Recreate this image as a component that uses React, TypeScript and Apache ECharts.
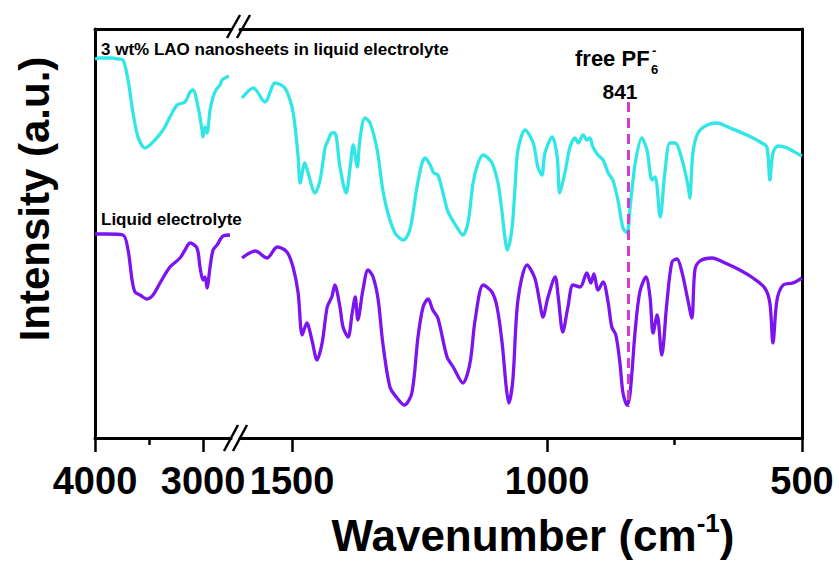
import React, { useEffect, useRef } from "react";
import * as echarts from "echarts";

// ---- data (wavenumber in cm-1, intensity in arbitrary units) ----
const cyanHighWn = [4000, 3950, 3850, 3780, 3740, 3694, 3648, 3602, 3537, 3463, 3370, 3306, 3240, 3167, 3120, 3093, 3046, 3009, 3000, 2981, 2963, 2935, 2907, 2880, 2843, 2824, 2778, 2760];
const cyanHighI = [379, 380, 380, 379, 378, 358, 325, 301, 290, 296, 308, 321, 333, 336, 346, 348, 331, 308, 301, 311, 305, 328, 341, 348, 353, 358, 361, 362];

const cyanLowWn = [1598, 1576, 1553, 1533, 1514, 1500, 1494, 1488, 1484, 1475, 1469, 1455, 1445, 1435, 1429, 1422, 1416, 1406, 1394, 1386, 1380, 1372, 1367, 1357, 1347, 1333, 1322, 1312, 1298, 1282, 1269, 1255, 1245, 1239, 1229, 1222, 1214, 1202, 1194, 1177, 1165, 1155, 1145, 1135, 1125, 1112, 1106, 1096, 1088, 1082, 1078, 1069, 1063, 1057, 1043, 1027, 1018, 1010, 1004, 990, 980, 975, 965, 955, 945, 939, 929, 922, 916, 910, 900, 890, 880, 871, 861, 851, 843, 837, 827, 814, 804, 794, 788, 778, 769, 759, 749, 735, 723, 720, 714, 704, 686, 667, 641, 608, 582, 569, 563, 557, 547, 529, 504, 500];
const cyanLowI = [340, 350, 336, 355, 350, 331, 311, 281, 255, 275, 266, 245, 258, 291, 298, 305, 305, 271, 245, 271, 293, 271, 298, 320, 315, 288, 248, 225, 205, 198, 208, 251, 275, 280, 273, 265, 263, 241, 226, 211, 203, 215, 255, 275, 283, 278, 273, 255, 225, 198, 188, 208, 248, 288, 308, 295, 271, 263, 285, 301, 281, 245, 265, 291, 300, 295, 303, 298, 300, 291, 283, 278, 265, 258, 238, 210, 205, 231, 275, 300, 288, 258, 261, 221, 265, 295, 295, 278, 251, 240, 285, 305, 313, 315, 310, 303, 296, 291, 258, 285, 292, 290, 283, 282];

const purpleHighWn = [4000, 3900, 3741, 3694, 3657, 3630, 3583, 3519, 3463, 3398, 3306, 3213, 3167, 3120, 3056, 3028, 3000, 2981, 2963, 2935, 2907, 2870, 2843, 2815, 2750];
const purpleHighI = [204, 204, 203, 188, 158, 146, 143, 139, 143, 155, 171, 180, 188, 195, 190, 171, 158, 161, 150, 171, 188, 193, 198, 202, 203];

const purpleLowWn = [1598, 1572, 1549, 1529, 1510, 1498, 1488, 1480, 1471, 1461, 1451, 1441, 1431, 1422, 1416, 1406, 1400, 1390, 1382, 1376, 1371, 1361, 1351, 1341, 1331, 1322, 1308, 1294, 1280, 1265, 1253, 1243, 1233, 1224, 1214, 1196, 1184, 1165, 1151, 1141, 1125, 1108, 1098, 1088, 1080, 1075, 1067, 1057, 1039, 1024, 1014, 1008, 998, 984, 978, 969, 959, 949, 935, 922, 914, 908, 900, 890, 880, 873, 865, 857, 851, 843, 837, 827, 818, 806, 798, 792, 784, 775, 765, 755, 745, 735, 725, 716, 710, 700, 676, 655, 622, 596, 573, 563, 557, 549, 537, 518, 500];
const purpleLowI = [180, 187, 180, 191, 186, 171, 145, 103, 115, 98, 78, 95, 131, 141, 153, 131, 111, 101, 125, 141, 118, 148, 168, 161, 138, 95, 51, 40, 33, 45, 101, 131, 139, 128, 120, 81, 71, 55, 75, 118, 153, 146, 131, 95, 51, 35, 58, 138, 173, 160, 135, 121, 141, 161, 141, 106, 131, 153, 151, 165, 155, 164, 148, 156, 135, 111, 103, 75, 45, 33, 45, 108, 146, 161, 141, 105, 123, 83, 135, 176, 179, 165, 141, 120, 168, 177, 180, 176, 168, 160, 150, 135, 95, 138, 153, 155, 160];

const highTickLabels = [4000, 3000];
const highMinorTicks = [3500];
const lowTickLabels = [1500, 1000, 500];
const lowMinorTicks = [750];
const peakWn = 841;
const peakLineRange = [336, 31];

const seriesNames = ["3 wt% LAO nanosheets in liquid electrolyte", "Liquid electrolyte"];

const zip = (xs: number[], ys: number[]) => xs.map((x, i) => [x, ys[i]]);

const FONT = "Liberation Sans, Arial, sans-serif";
const CYAN = "#33E6E6";
const PURPLE = "#7B14EE";
const MAGENTA = "#D23CD2";

export default function App() {
  const ref = useRef<HTMLDivElement>(null);
  useEffect(() => {
    if (!ref.current) return;
    const chart = echarts.init(ref.current, null, { renderer: "svg" });
    const axisLine = { show: true, onZero: false, lineStyle: { color: "#000", width: 3 } };
    const mkX = (grid: number, min: number, max: number, labels: number[], minor: number[]) => [
      {
        type: "value", gridIndex: grid, min, max, inverse: true, position: "bottom",
        axisLine,
        axisTick: { show: true, customValues: labels, length: 14, lineStyle: { color: "#000", width: 2.5 } },
        axisLabel: {
          show: true, customValues: labels, fontSize: 38, fontWeight: "bold", fontFamily: FONT, color: "#000", margin: 24,
          formatter: (v: number) => String(v),
        },
        splitLine: { show: false },
      },
      {
        type: "value", gridIndex: grid, min, max, inverse: true, position: "bottom",
        axisLine: { show: false, onZero: false },
        axisTick: { show: true, customValues: minor, length: 7, lineStyle: { color: "#000", width: 2.5 } },
        axisLabel: { show: false },
        splitLine: { show: false },
      },
      {
        type: "value", gridIndex: grid, min, max, inverse: true, position: "top",
        axisLine,
        axisTick: { show: false },
        axisLabel: { show: false },
        splitLine: { show: false },
      },
    ];
    const lineSeries = (name: string, data: number[][], color: string, xi: number, yi: number, extra: any = {}) => ({
      type: "line", name, data, xAxisIndex: xi, yAxisIndex: yi, showSymbol: false, symbol: "none",
      smooth: 0.3, lineStyle: { color, width: 3.3 }, itemStyle: { color }, silent: true, ...extra,
    });
    const option: any = {
      animation: false,
      grid: [
        { left: 95, top: 29, width: 136, height: 409 },
        { left: 240, top: 29, width: 562, height: 409 },
      ],
      xAxis: [
        ...mkX(0, 2741, 4000, highTickLabels, highMinorTicks),
        ...mkX(1, 500, 1602, lowTickLabels, lowMinorTicks),
      ],
      yAxis: [
        { type: "value", gridIndex: 0, min: 0, max: 409, position: "left", axisLine: { ...axisLine }, axisTick: { show: false }, axisLabel: { show: false }, splitLine: { show: false } },
        { type: "value", gridIndex: 1, min: 0, max: 409, position: "right", axisLine: { ...axisLine }, axisTick: { show: false }, axisLabel: { show: false }, splitLine: { show: false } },
      ],
      series: [
        lineSeries(seriesNames[0], zip(cyanHighWn, cyanHighI), CYAN, 0, 0),
        lineSeries(seriesNames[1], zip(purpleHighWn, purpleHighI), PURPLE, 0, 0),
        lineSeries(seriesNames[1], zip(purpleLowWn, purpleLowI), PURPLE, 3, 1),
        lineSeries(seriesNames[0], zip(cyanLowWn, cyanLowI), CYAN, 3, 1, {
          markLine: {
            silent: true, symbol: "none", animation: false,
            label: { show: false },
            lineStyle: { color: MAGENTA, width: 3, type: [10, 6] },
            data: [[{ coord: [peakWn, peakLineRange[0]] }, { coord: [peakWn, peakLineRange[1]] }]],
          },
        }),
      ],
      graphic: [
        // axis break marks
        { type: "line", shape: { x1: 227, y1: 38, x2: 240, y2: 15 }, style: { stroke: "#000", lineWidth: 2.5 } },
        { type: "line", shape: { x1: 237, y1: 38, x2: 250, y2: 15 }, style: { stroke: "#000", lineWidth: 2.5 } },
        { type: "line", shape: { x1: 224, y1: 451, x2: 238, y2: 425 }, style: { stroke: "#000", lineWidth: 2.5 } },
        { type: "line", shape: { x1: 233, y1: 451, x2: 247, y2: 425 }, style: { stroke: "#000", lineWidth: 2.5 } },
        // series labels
        { type: "text", x: 101, y: 49, style: { text: seriesNames[0], font: `bold 17px ${FONT}`, fill: "#000", verticalAlign: "middle", align: "left" } },
        { type: "text", x: 101, y: 219, style: { text: seriesNames[1], font: `bold 17px ${FONT}`, fill: "#000", verticalAlign: "middle", align: "left" } },
        // peak annotation
        { type: "text", x: 575, y: 58, style: { text: "free PF", font: `bold 22px ${FONT}`, fill: "#000", verticalAlign: "middle", align: "left" } },
        { type: "text", x: 651, y: 69, style: { text: "6", font: `bold 13px ${FONT}`, fill: "#000", verticalAlign: "middle", align: "left" } },
        { type: "text", x: 652, y: 50, style: { text: "-", font: `bold 13px ${FONT}`, fill: "#000", verticalAlign: "middle", align: "left" } },
        { type: "text", x: 620, y: 91, style: { text: String(peakWn), font: `bold 21px ${FONT}`, fill: "#000", verticalAlign: "middle", align: "center" } },
        // axis titles
        { type: "text", x: 34, y: 199, rotation: Math.PI / 2, style: { text: "Intensity (a.u.)", font: `bold 42px ${FONT}`, fill: "#000", verticalAlign: "middle", align: "center" } },
        {
          type: "text", x: 533, y: 535,
          style: {
            text: "{a|Wavenumber (cm}{s|-1}{a|)}", align: "center", verticalAlign: "middle", fill: "#000",
            rich: {
              a: { fontSize: 44, fontWeight: "bold", fontFamily: FONT, fill: "#000", lineHeight: 50 },
              s: { fontSize: 26, fontWeight: "bold", fontFamily: FONT, fill: "#000", verticalAlign: "top", lineHeight: 50, padding: [0, 0, 20, 0] },
            },
          },
        },
      ],
    };
    chart.setOption(option);
    return () => chart.dispose();
  }, []);
  return <div ref={ref} style={{ position: "fixed", left: 0, top: 0, width: 839, height: 564, background: "#fff" }} />;
}
